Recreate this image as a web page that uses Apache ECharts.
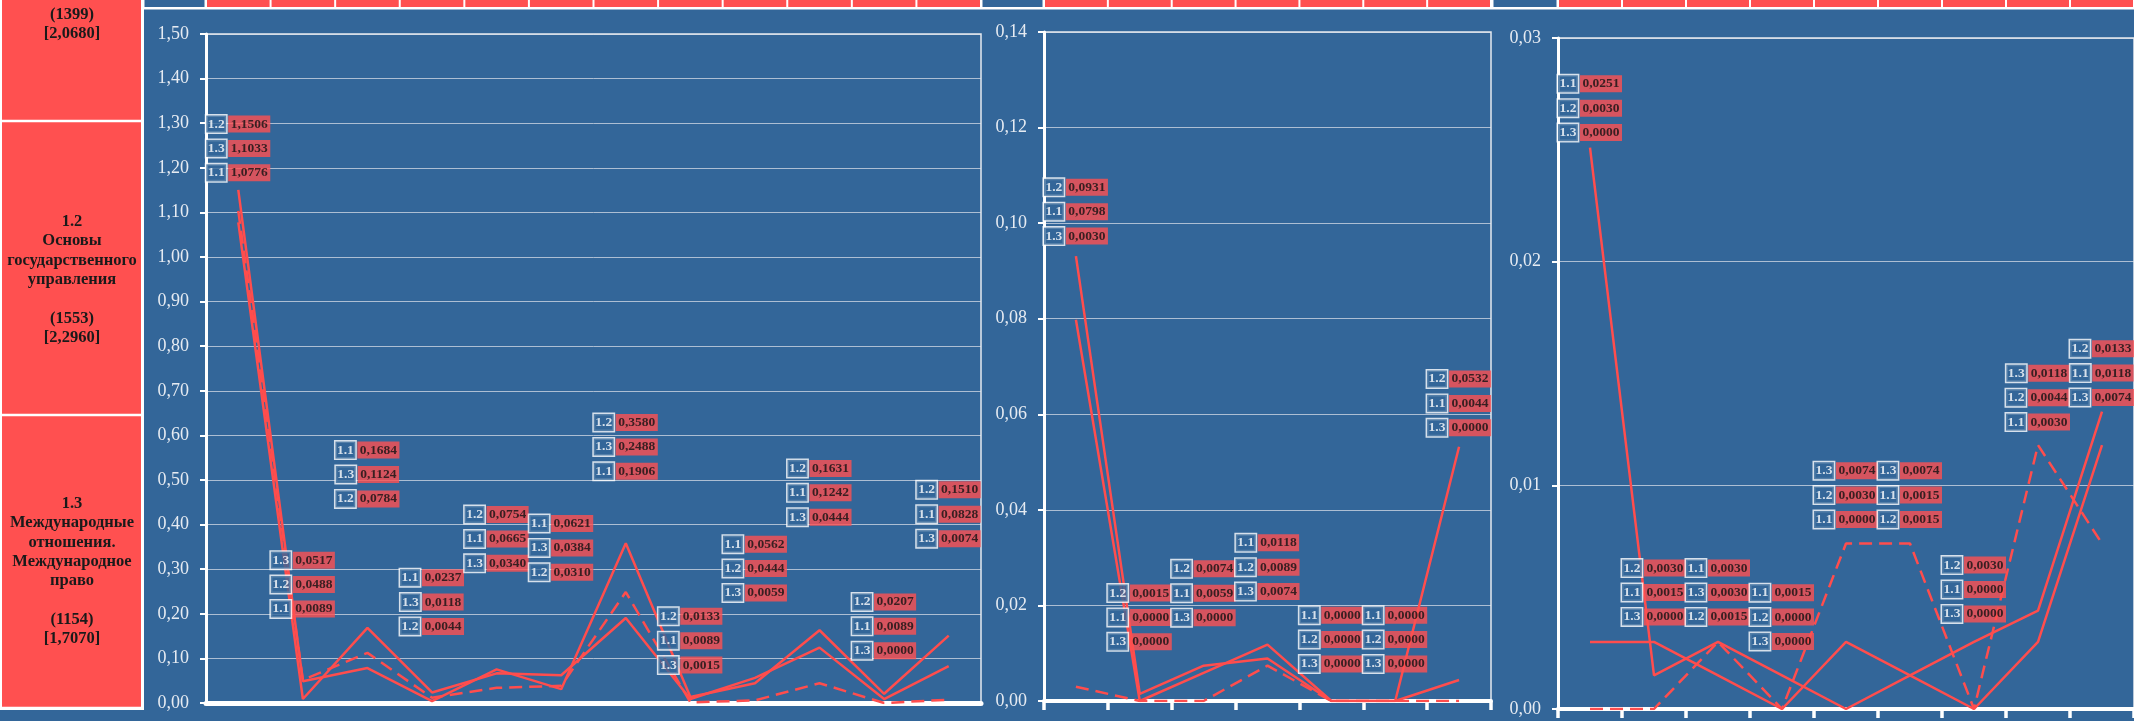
<!DOCTYPE html>
<html>
<head>
<meta charset="utf-8">
<title>1.1 / 1.2 / 1.3</title>
<script src="https://cdn.jsdelivr.net/npm/echarts@6/dist/echarts.min.js"></script>
<style>
html,body{margin:0;padding:0;background:#336699;}
#main{width:2134px;height:721px;}
</style>
</head>
<body>
<div id="main"></div>
<script>
// группы (серии)
var groups = ['1.1', '1.2', '1.3'];

// панель 1 (12 позиций)
var cats1 = ['1', '2', '3', '4', '5', '6', '7', '8', '9', '10', '11', '12'];
var p1_11 = [1.0776, 0.0089, 0.1684, 0.0237, 0.0665, 0.0621, 0.1906, 0.0089, 0.0562, 0.1242, 0.0089, 0.0828];
var p1_12 = [1.1506, 0.0488, 0.0784, 0.0044, 0.0754, 0.0310, 0.3580, 0.0133, 0.0444, 0.1631, 0.0207, 0.1510];
var p1_13 = [1.1033, 0.0517, 0.1124, 0.0118, 0.0340, 0.0384, 0.2488, 0.0015, 0.0059, 0.0444, 0.0000, 0.0074];

// панель 2 (7 позиций)
var cats2 = ['1', '2', '3', '4', '5', '6', '7'];
var p2_11 = [0.0798, 0.0000, 0.0059, 0.0118, 0.0000, 0.0000, 0.0044];
var p2_12 = [0.0931, 0.0015, 0.0074, 0.0089, 0.0000, 0.0000, 0.0532];
var p2_13 = [0.0030, 0.0000, 0.0000, 0.0074, 0.0000, 0.0000, 0.0000];

// панель 3 (9 позиций видно)
var cats3 = ['1', '2', '3', '4', '5', '6', '7', '8', '9'];
var p3_11 = [0.0251, 0.0015, 0.0030, 0.0015, 0.0000, 0.0015, 0.0000, 0.0030, 0.0118];
var p3_12 = [0.0030, 0.0030, 0.0015, 0.0000, 0.0030, 0.0015, 0.0030, 0.0044, 0.0133];
var p3_13 = [0.0000, 0.0000, 0.0030, 0.0000, 0.0074, 0.0074, 0.0000, 0.0118, 0.0074];

// шкалы осей Y: [max, шаг]
var yScale1 = [1.5, 0.1];
var yScale2 = [0.14, 0.02];
var yScale3 = [0.03, 0.01];

// левая колонка
var rowTexts = [
  '(1399)\n[2,0680]',
  '1.2\nОсновы\nгосударственного\nуправления\n\n(1553)\n[2,2960]',
  '1.3\nМеждународные\nотношения.\nМеждународное\nправо\n\n(1154)\n[1,7070]'
];

// --- оформление ---
var BLUE = '#336699';
var RED = '#ff5050';
var LINE = '#ff4d4d';
var SERIF = '"Liberation Serif", "Times New Roman", serif';

// подъём блока подписей над верхней точкой (px)
var lift1 = [17, 71, 129, 66, 106, 103, 72, 32, 85, 113, 43, 97];
var lift2 = [20, 52, 48, 53, 37, 37, 19];
var lift3 = [15, 25, 25, 34, 24, 24, 28, 23, 14];

var panels = [
  {left: 206, top: 34, width: 775, height: 669, edge: 143, cats: cats1, d: [p1_11, p1_12, p1_13], y: yScale1, lift: lift1, ticks: false},
  {left: 1044, top: 32, width: 447, height: 669, edge: 981, cats: cats2, d: [p2_11, p2_12, p2_13], y: yScale2, lift: lift2, ticks: true},
  {left: 1558, top: 38, width: 576, height: 671, edge: 1492, cats: cats3, d: [p3_11, p3_12, p3_13], y: yScale3, lift: lift3, ticks: true}
];

function fmt4(v) { return v.toFixed(4).replace('.', ','); }

function stackText(vals) {
  var idx = [0, 1, 2].sort(function (a, b) { return (vals[b] - vals[a]) || (a - b); });
  return idx.map(function (i) {
    return '{k|' + groups[i] + '}{g| }{v|' + fmt4(vals[i]) + '}';
  }).join('\n');
}

var rich = {
  k: {color: '#fff', fontWeight: 'bold', fontFamily: SERIF, fontSize: 13.5, backgroundColor: BLUE,
      borderColor: '#fff', borderWidth: 1.5, padding: [1, 1.5], height: 15, lineHeight: 24.4},
  g: {fontSize: 2, width: 2, lineHeight: 24.4},
  v: {color: '#111', fontWeight: 'bold', fontFamily: SERIF, fontSize: 13.5, backgroundColor: RED,
      padding: [1, 2.5], height: 15, lineHeight: 24.4}
};

var grids = [], xAxes = [], yAxes = [], series = [], graphics = [];

panels.forEach(function (p, gi) {
  grids.push({left: p.left, top: p.top, width: p.width, height: p.height,
    show: true, borderColor: '#e6eaf0', borderWidth: 1.5, containLabel: false, outerBoundsMode: 'none'});

  xAxes.push({type: 'category', gridIndex: gi, data: p.cats, boundaryGap: true,
    axisLine: {show: true, onZero: false, lineStyle: {color: '#fff', width: gi === 0 ? 5 : 4}},
    axisTick: {show: p.ticks, length: 9, lineStyle: {color: '#fff', width: 3.5}},
    axisLabel: {show: false}, splitLine: {show: false}});

  yAxes.push({type: 'value', gridIndex: gi, min: 0, max: p.y[0], interval: p.y[1],
    axisLine: {show: true, lineStyle: {color: '#fff', width: 3}},
    axisTick: {show: true, length: 6, lineStyle: {color: '#fff', width: 2}},
    axisLabel: {color: '#e6ebf2', fontFamily: SERIF, fontSize: 18, margin: 17,
      formatter: function (v) { return v.toFixed(2).replace('.', ','); }},
    splitLine: {show: true, lineStyle: {color: 'rgba(225,228,235,0.7)', width: 1}}});

  // линии 1.1, 1.2 сплошные, 1.3 пунктир
  p.d.forEach(function (arr, si) {
    series.push({type: 'line', name: groups[si], xAxisIndex: gi, yAxisIndex: gi, data: arr,
      symbol: 'none', silent: true, z: 3,
      lineStyle: {color: LINE, width: 2.5, type: si === 2 ? [13, 7] : 'solid'}});
  });

  // блоки подписей
  var items = p.cats.map(function (c, i) {
    var vals = [p.d[0][i], p.d[1][i], p.d[2][i]];
    var top = Math.max(vals[0], vals[1], vals[2]);
    return {value: [i, top], txt: stackText(vals), label: {distance: p.lift[i] - 12.7}};
  });
  series.push({type: 'scatter', xAxisIndex: gi, yAxisIndex: gi, data: items, symbolSize: 1,
    silent: true, z: 5, itemStyle: {color: 'rgba(0,0,0,0)'},
    label: {show: true, position: 'top', align: 'center', rich: rich,
      formatter: function (q) { return q.data.txt; }}});

  // шапка: ячейки над осью и над категориями
  var cw = p.width / p.cats.length;
  graphics.push({type: 'rect', shape: {x: p.edge + 1.5, y: 0, width: p.left - p.edge - 3, height: 7}, style: {fill: BLUE}, z: 2});
  for (var k = 0; k < p.cats.length; k++) {
    graphics.push({type: 'rect', shape: {x: p.left + k * cw + 1, y: 0, width: cw - 2, height: 7}, style: {fill: RED}, z: 2});
  }
});

// белая полоса шапки
graphics.unshift({type: 'rect', shape: {x: 141, y: 0, width: 1993, height: 9.5}, style: {fill: '#fff'}, z: 1});

// левая колонка
graphics.push({type: 'rect', shape: {x: 0, y: 0, width: 144, height: 710}, style: {fill: '#fff'}, z: 1});
graphics.push({type: 'rect', shape: {x: 2, y: 0, width: 139, height: 119.8}, style: {fill: RED}, z: 2});
graphics.push({type: 'rect', shape: {x: 2, y: 122.3, width: 139, height: 291.5}, style: {fill: RED}, z: 2});
graphics.push({type: 'rect', shape: {x: 2, y: 416.3, width: 139, height: 290.4}, style: {fill: RED}, z: 2});
var textTops = [5.2, 212.1, 494.1];
rowTexts.forEach(function (t, i) {
  graphics.push({type: 'text', x: 72, y: textTops[i], z: 3,
    style: {text: t, fill: '#1a1a1a', fontFamily: SERIF, fontWeight: 'bold', fontSize: 16.5,
      lineHeight: 19.3, align: 'center', verticalAlign: 'top'}});
});

var myChart = echarts.init(document.getElementById('main'));
myChart.setOption({
  backgroundColor: BLUE,
  animation: false,
  grid: grids,
  xAxis: xAxes,
  yAxis: yAxes,
  series: series,
  graphic: graphics
});
</script>
</body>
</html>
